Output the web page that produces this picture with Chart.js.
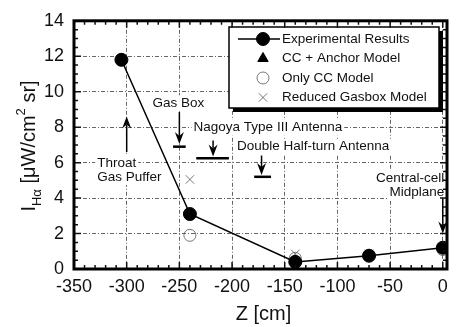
<!DOCTYPE html>
<html>
<head>
<meta charset="utf-8">
<script src="https://cdn.jsdelivr.net/npm/chart.js@4"></script>
<style>
  html, body { margin: 0; padding: 0; background: #fff; }
  #wrap { width: 456px; height: 327px; }
</style>
</head>
<body>
<div id="wrap"><canvas id="myChart" width="456" height="327"></canvas></div>
<script>
// data
const expZ = [-305, -240, -140, -70, 0];
const expI = [11.8, 3.1, 0.4, 0.75, 1.2];
const anchorZ = [-305, -240, -140, -70, 0];
const anchorI = [11.8, 3.1, 0.45, 0.75, 1.15];
const ccZ = [-240, -140, -70, 0];
const ccI = [1.9, 0.6, 0.75, 1.1];
const gasboxZ = [-240, -140, -70, 0];
const gasboxI = [5.05, 0.85, 0.85, 1.2];

const xTicks = [-350, -300, -250, -200, -150, -100, -50, 0];
const yTicks = [0, 2, 4, 6, 8, 10, 12, 14];

const seriesNames = ["Experimental Results", "CC + Anchor Model", "Only CC Model", "Reduced Gasbox Model"];

// annotations: [text lines, x, y] in data units
const labels = [
  { lines: ["Gas Box"], x: -251, y: 9.35, align: "center" },
  { lines: ["Nagoya Type III Antenna"], x: -166, y: 7.97, align: "center" },
  { lines: ["Double Half-turn Antenna"], x: -123, y: 6.9, align: "center" },
  { lines: ["Throat", "Gas Puffer"], x: -328, y: 5.98, align: "left" },
  { lines: ["Central-cell", "Midplane"], x: 1.5, y: 5.1, align: "right" },
];
// arrows: x, from y, to y (tip)
const arrows = [
  { x: -300, y0: 6.6, y1: 8.6 },
  { x: -250, y0: 8.85, y1: 7.05 },
  { x: -218, y0: 7.25, y1: 6.35 },
  { x: -172, y0: 6.4, y1: 5.3 },
  { x: 0, y0: 4.0, y1: 2.0 },
];
// horizontal bars: x from, x to, y
const bars = [
  { x0: -256, x1: -244, y: 6.9 },
  { x0: -234, x1: -203, y: 6.25 },
  { x0: -179, x1: -163, y: 5.2 },
];

const FONT = "'Liberation Sans', Arial, sans-serif";

function pts(xs, ys) {
  return xs.map((x, i) => ({ x: x, y: ys[i] }));
}

// draws label backgrounds (withText false) or text only
function drawLabels(chart, withText) {
  const c = chart.ctx;
  const xs = chart.scales.x;
  const ys = chart.scales.y;
  c.save();
  c.font = "13.5px " + FONT;
  c.textBaseline = "middle";
  c.textAlign = "left";
  labels.forEach((l) => {
    const px = xs.getPixelForValue(l.x);
    const py = ys.getPixelForValue(l.y);
    l.lines.forEach((t, i) => {
      const w = c.measureText(t).width;
      let left = px;
      if (l.align === "center") left = px - w / 2;
      if (l.align === "right") left = px - w;
      const ty = py + i * 14;
      if (withText) {
        c.fillStyle = "#111";
        c.fillText(t, left, ty);
      } else {
        c.fillStyle = "#fff";
        c.fillRect(left - 2, ty - 8, w + 4, 16);
      }
    });
  });
  c.restore();
}

const ctx = document.getElementById("myChart");

const decor = {
  id: "decor",
  beforeDatasetsDraw(chart) {
    const c = chart.ctx;
    const xs = chart.scales.x;
    const ys = chart.scales.y;
    drawLabels(chart, false);
    c.save();
    // arrows
    c.strokeStyle = "#000";
    c.fillStyle = "#000";
    c.lineWidth = 1.5;
    arrows.forEach((a) => {
      const px = xs.getPixelForValue(a.x);
      const p0 = ys.getPixelForValue(a.y0);
      const p1 = ys.getPixelForValue(a.y1);
      const dir = p1 > p0 ? 1 : -1;
      c.beginPath();
      c.moveTo(px, p0);
      c.lineTo(px, p1 - dir * 8);
      c.stroke();
      c.beginPath();
      c.moveTo(px, p1);
      c.lineTo(px - 4.5, p1 - dir * 12);
      c.lineTo(px, p1 - dir * 8);
      c.lineTo(px + 4.5, p1 - dir * 12);
      c.closePath();
      c.fill();
    });
    c.lineWidth = 2.5;
    bars.forEach((b) => {
      const py = ys.getPixelForValue(b.y);
      c.beginPath();
      c.moveTo(xs.getPixelForValue(b.x0), py);
      c.lineTo(xs.getPixelForValue(b.x1), py);
      c.stroke();
    });
    c.restore();
  },
  afterDatasetsDraw(chart) {
    const c = chart.ctx;
    c.save();
    // legend box with shadow
    const bx = 229, by = 27, bw = 210, bh = 81;
    c.fillStyle = "#000";
    c.fillRect(bx + 4, by + 4, bw, bh);
    c.fillStyle = "#fff";
    c.fillRect(bx, by, bw, bh);
    c.strokeStyle = "#000";
    c.lineWidth = 1.5;
    c.strokeRect(bx, by, bw, bh);
    c.font = "13.5px " + FONT;
    c.textBaseline = "middle";
    c.textAlign = "left";
    chart.data.datasets.forEach((ds, i) => {
      const ly = by + 12 + i * 19.5;
      const mx = 263;
      if (i === 0) {
        c.strokeStyle = "#000";
        c.lineWidth = 1.5;
        c.beginPath();
        c.moveTo(238, ly);
        c.lineTo(280, ly);
        c.stroke();
      }
      c.fillStyle = ds.pointBackgroundColor;
      c.strokeStyle = ds.pointBorderColor;
      c.lineWidth = ds.pointBorderWidth;
      Chart.helpers.drawPoint(c, { pointStyle: ds.pointStyle, radius: ds.pointRadius, rotation: 0, borderWidth: ds.pointBorderWidth }, mx, ly);
      c.fillStyle = "#111";
      c.fillText(ds.label, 282, ly);
    });
    c.restore();
  },
  afterDraw(chart) {
    const c = chart.ctx;
    const a = chart.chartArea;
    const xs = chart.scales.x;
    const ys = chart.scales.y;
    c.save();
    c.strokeStyle = "#111";
    c.lineWidth = 1.5;
    c.beginPath();
    for (let v = -350; v <= 0; v += 10) {
      const px = xs.getPixelForValue(v);
      const len = v % 50 === 0 ? 7 : 4;
      c.moveTo(px, a.bottom);
      c.lineTo(px, a.bottom - len);
      c.moveTo(px, a.top);
      c.lineTo(px, a.top + len);
    }
    for (let v = 0; v <= 14; v += 0.5) {
      const py = ys.getPixelForValue(v);
      const len = v % 2 === 0 ? 7 : 4;
      c.moveTo(a.left, py);
      c.lineTo(a.left + len, py);
      c.moveTo(a.right, py);
      c.lineTo(a.right - len, py);
    }
    c.stroke();
    c.lineWidth = 3;
    c.strokeStyle = "#000";
    c.strokeRect(a.left, a.top, a.right - a.left, a.bottom - a.top);
    c.restore();

    drawLabels(chart, true);

    c.save();
    // axis titles
    c.fillStyle = "#111";
    c.font = "20px " + FONT;
    c.textAlign = "center";
    c.textBaseline = "middle";
    c.fillText("Z [cm]", (a.left + a.right) / 2 + 3, 314);
    // y title with sub/superscript
    c.translate(29, 146);
    c.rotate(-Math.PI / 2);
    const parts = [
      { t: "I", f: 20, dy: 0 },
      { t: "H\u03b1", f: 13, dy: 8 },
      { t: " [\u03bcW/cm", f: 20, dy: 0 },
      { t: "2", f: 13, dy: -8 },
      { t: " sr]", f: 20, dy: 0 },
    ];
    let total = 0;
    parts.forEach((p) => {
      c.font = p.f + "px " + FONT;
      p.w = c.measureText(p.t).width;
      total += p.w;
    });
    let x0 = -total / 2;
    c.textAlign = "left";
    parts.forEach((p) => {
      c.font = p.f + "px " + FONT;
      c.fillText(p.t, x0, p.dy);
      x0 += p.w;
    });
    c.restore();
  },
};

new Chart(ctx, {
  type: "scatter",
  data: {
    datasets: [
      {
        label: seriesNames[0],
        data: pts(expZ, expI),
        showLine: true,
        borderColor: "#000",
        borderWidth: 1.5,
        pointStyle: "circle",
        pointRadius: 6.5,
        pointBackgroundColor: "#000",
        pointBorderColor: "#000",
        pointBorderWidth: 1,
      },
      {
        label: seriesNames[1],
        data: pts(anchorZ, anchorI),
        showLine: false,
        pointStyle: "triangle",
        pointRadius: 6,
        pointBackgroundColor: "#000",
        pointBorderColor: "#000",
        pointBorderWidth: 1,
      },
      {
        label: seriesNames[2],
        data: pts(ccZ, ccI),
        showLine: false,
        pointStyle: "circle",
        pointRadius: 6,
        pointBackgroundColor: "rgba(0,0,0,0)",
        pointBorderColor: "#555",
        pointBorderWidth: 0.8,
      },
      {
        label: seriesNames[3],
        data: pts(gasboxZ, gasboxI),
        showLine: false,
        pointStyle: "crossRot",
        pointRadius: 6,
        pointBackgroundColor: "rgba(0,0,0,0)",
        pointBorderColor: "#555",
        pointBorderWidth: 0.8,
      },
    ],
  },
  options: {
    responsive: false,
    animation: false,
    layout: { padding: { top: 16, right: 9, left: 0, bottom: 0 } },
    plugins: { legend: { display: false }, tooltip: { enabled: false } },
    scales: {
      x: {
        type: "linear",
        min: -350,
        max: 4,
        afterBuildTicks: (s) => { s.ticks = xTicks.map((v) => ({ value: v })); },
        afterFit: (s) => { s.height = 58; },
        border: { display: false, dash: [4, 2, 1, 2] },
        grid: {
          drawTicks: false,
          color: (g) => (g.tick && g.tick.value === -350 ? "rgba(0,0,0,0)" : "#555"),
          lineWidth: 0.9,
        },
        ticks: { color: "#111", font: { family: FONT, size: 18 }, padding: 7, maxRotation: 0 },
      },
      y: {
        type: "linear",
        min: 0,
        max: 14,
        afterBuildTicks: (s) => { s.ticks = yTicks.map((v) => ({ value: v })); },
        afterFit: (s) => { s.width = 74; },
        border: { display: false, dash: [4, 2, 1, 2] },
        grid: {
          drawTicks: false,
          color: (g) => (g.tick && (g.tick.value === 0 || g.tick.value === 14) ? "rgba(0,0,0,0)" : "#555"),
          lineWidth: 0.9,
        },
        ticks: { color: "#111", font: { family: FONT, size: 18 }, padding: 10 },
      },
    },
  },
  plugins: [decor],
});
</script>
</body>
</html>
